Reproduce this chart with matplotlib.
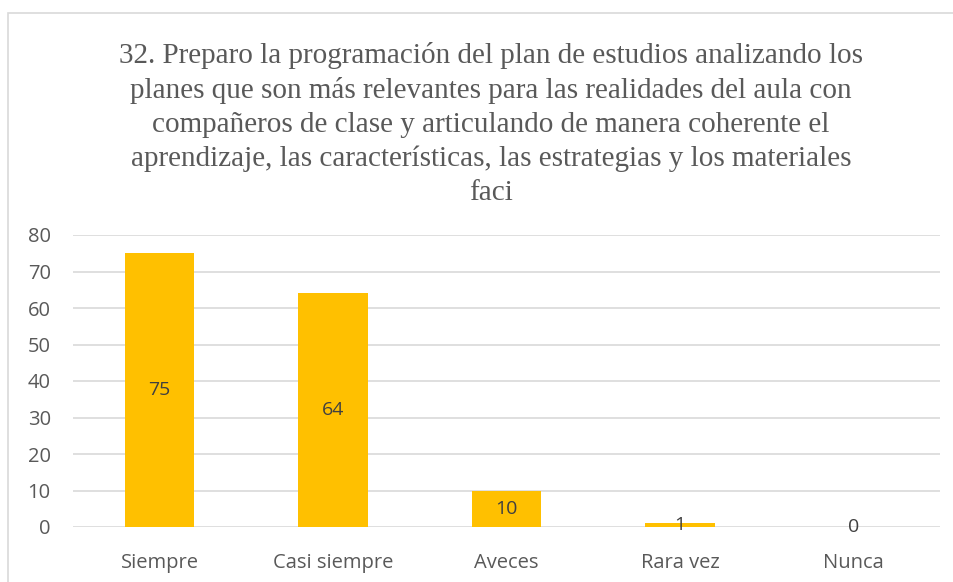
import matplotlib.pyplot as plt
from matplotlib.patches import Rectangle

# --- datos ---
categorias = ['Siempre', 'Casi siempre', 'Aveces', 'Rara vez', 'Nunca']
valores = [75, 64, 10, 1, 0]
titulo = ('32. Preparo la programación del plan de estudios analizando los\n'
          'planes que son más relevantes para las realidades del aula con\n'
          'compañeros de clase y articulando de manera coherente el\n'
          'aprendizaje, las características, las estrategias y los materiales\n'
          'faci')

W, H = 954, 582
fig = plt.figure(figsize=(W / 100, H / 100), dpi=100)

# marco do gráfico
fig.patches.append(Rectangle((8 / W, -0.05), 1.2, 1 - 13 / H + 0.05,
                             transform=fig.transFigure, fill=False,
                             edgecolor='#d9d9d9', linewidth=1.2))

ax = fig.add_axes([73 / W, 1 - 527 / H, (940 - 73) / W, (527 - 235) / H])

x = range(len(categorias))
ax.bar(x, valores, width=0.4, color='#FFC000', zorder=3)
for xi, v in zip(x, valores):
    ax.text(xi, v / 2, str(v), ha='center', va='center', fontsize=14,
            color='#404040', family='Open Sans', zorder=4)

ax.set_xlim(-0.5, len(categorias) - 0.5)
ax.set_ylim(0, 80)
ax.set_yticks(range(0, 81, 10))
ax.set_xticks(list(x))
ax.set_xticklabels(categorias)
ax.grid(axis='y', color='#d9d9d9', linewidth=1.2, zorder=0)
for s in ax.spines.values():
    s.set_visible(False)
ax.tick_params(length=0, labelsize=14.5, colors='#595959')
ax.tick_params(axis='x', pad=19)
ax.tick_params(axis='y', pad=16)
for lab in ax.get_xticklabels() + ax.get_yticklabels():
    lab.set_family('Open Sans')

fig.text(491 / W, 1 - 42 / H, titulo, ha='center', va='top',
         fontsize=21, family='Liberation Serif', color='#595959',
         linespacing=1.39)

fig.savefig('out.png', dpi=100)
